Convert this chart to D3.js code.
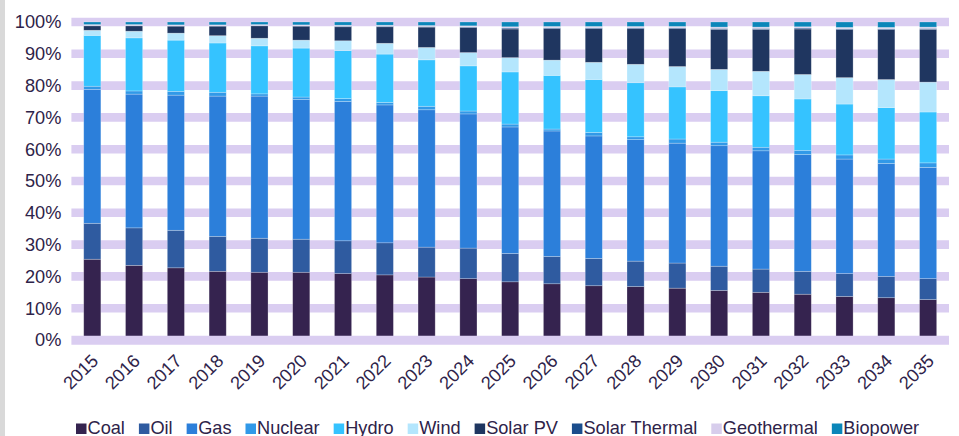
<!DOCTYPE html>
<html>
<head>
<meta charset="utf-8">
<script src="https://cdn.jsdelivr.net/npm/d3@7"></script>
<style>
body{margin:0;background:#fff;}
svg{display:block;font-family:"Liberation Sans",Arial,sans-serif;}
</style>
</head>
<body>
<svg id="chart" width="959" height="436"></svg>
<script>
// generation share by source, in % of the year's total
const years = ['2015','2016','2017','2018','2019','2020','2021','2022','2023','2024','2025',
    '2026','2027','2028','2029','2030','2031','2032','2033','2034','2035'];
const sources = ['Coal','Oil','Gas','Nuclear','Hydro','Wind','Solar PV','Solar Thermal','Geothermal','Biopower'];
const sourceColors = ['#35234f','#2f5ba0','#2c7fda','#3199e8','#35c3ff','#b4e6fd','#1f3660','#1b4d8c','#d7cdec','#0b86b9'];

const coal         = [25.4,23.5,22.7,21.6,21.3,21.3,20.9,20.5,19.8,19.3,18.3,17.7,17.1,16.8,16.3,15.6,15.0,14.4,13.7,13.3,12.7];
const oil          = [11.3,11.8,11.8,11.0,10.7,10.4,10.3,10.1, 9.4, 9.6, 8.9, 8.6, 8.6, 8.0, 7.9, 7.6, 7.3, 7.2, 7.2, 6.7, 6.6];
const gas          = [42.1,42.1,42.5,44.1,44.7,43.9,43.8,43.4,43.2,42.2,39.8,39.5,38.6,38.2,37.7,37.9,37.2,36.7,36.0,35.5,35.0];
const nuclear      = [ 1.0, 1.0, 1.2, 1.2, 0.7, 0.8, 0.9, 0.8, 1.1, 0.9, 0.9, 0.6, 1.1, 0.9, 1.3, 1.1, 1.1, 1.3, 1.3, 1.4, 1.4];
const hydro        = [16.0,16.7,16.1,15.5,15.1,15.4,15.1,15.2,14.6,14.2,16.4,16.9,16.7,17.0,16.4,16.2,16.2,16.2,16.0,16.2,16.0];
const wind         = [ 1.6, 2.1, 2.2, 2.3, 2.4, 2.5, 3.1, 3.4, 3.9, 4.2, 4.5, 4.8, 5.4, 5.8, 6.4, 6.7, 7.7, 7.7, 8.3, 8.8, 9.4];
const solarPV      = [ 1.4, 1.7, 2.2, 3.0, 3.9, 4.4, 4.4, 5.2, 6.4, 7.9, 9.0, 9.9,10.6,11.2,11.9,12.6,13.2,14.3,15.1,15.7,16.6];
const solarThermal = [ 0.1, 0.1, 0.1, 0.1, 0.1, 0.1, 0.2, 0.2, 0.2, 0.2, 0.3, 0.3, 0.3, 0.3, 0.3, 0.3, 0.3, 0.3, 0.3, 0.3, 0.3];
const geothermal   = [ 0.3, 0.3, 0.3, 0.3, 0.3, 0.3, 0.3, 0.3, 0.3, 0.3, 0.4, 0.4, 0.4, 0.4, 0.4, 0.4, 0.4, 0.4, 0.4, 0.4, 0.4];
const biopower     = [ 0.8, 0.8, 0.9, 0.9, 0.8, 0.9, 1.0, 1.0, 1.1, 1.2, 1.5, 1.4, 1.4, 1.4, 1.4, 1.6, 1.6, 1.5, 1.7, 1.7, 1.6];

const seriesValues = [coal, oil, gas, nuclear, hydro, wind, solarPV, solarThermal, geothermal, biopower];

const margin = {top: 22, bottom: 96, left: 71.4, right: 10};
const gridColor = '#dacdf1';
const textColor = '#2e2349';
const fontSize = '18.2px';

let svg = d3.select('#chart');
const width = +svg.attr('width');
const height = +svg.attr('height');

// the grey strip on the left edge
svg.append('rect')
    .attr('x', 0).attr('y', 0)
    .attr('width', 5).attr('height', height)
    .attr('fill', '#d9d9d9');

let rows = years.map(function(year, i){
    let row = {year: year};
    sources.forEach(function(s, k){ row[s] = seriesValues[k][i]; });
    return row;
});

let stacked = d3.stack()
    .keys(sources)
    .offset(d3.stackOffsetExpand)(rows);

let xScale = d3.scaleBand()
    .domain(years)
    .range([margin.left, width - margin.right])
    .paddingInner(0.59)
    .paddingOuter(0.295);
let yScale = d3.scaleLinear()
    .domain([0, 1])
    .range([height - margin.bottom, margin.top]);
let colorScale = d3.scaleOrdinal().domain(sources).range(sourceColors);

const ticks = yScale.ticks(10);

// thick lavender gridlines behind the bars
svg.append('g')
    .selectAll('line')
    .data(ticks.filter(t => t > 0))
    .enter()
    .append('line')
    .attr('x1', margin.left)
    .attr('x2', width - margin.right)
    .attr('y1', d => yScale(d))
    .attr('y2', d => yScale(d))
    .attr('stroke', gridColor)
    .attr('stroke-width', 8.6);

svg.append('g')
    .selectAll('g')
    .data(stacked)
    .enter()
    .append('g')
    .attr('fill', d => colorScale(d.key))
    .selectAll('rect')
    .data(d => d)
    .enter()
    .append('rect')
    .attr('x', d => xScale(d.data.year))
    .attr('width', xScale.bandwidth())
    .attr('y', d => yScale(d[1]))
    .attr('height', d => yScale(d[0]) - yScale(d[1]))
    .attr('stroke', 'rgba(255,255,255,0.35)')
    .attr('stroke-width', 0.7);

// the 0% line sits on top of the bars
svg.append('line')
    .attr('x1', margin.left)
    .attr('x2', width - margin.right)
    .attr('y1', yScale(0) + 0.3)
    .attr('y2', yScale(0) + 0.3)
    .attr('stroke', gridColor)
    .attr('stroke-width', 9);

let yAxis = svg.append('g')
    .attr('transform', 'translate(' + margin.left + ',0)')
    .call(d3.axisLeft(yScale).ticks(10, '.0%').tickSize(0).tickPadding(10));
yAxis.select('.domain').remove();
yAxis.selectAll('text')
    .attr('fill', textColor)
    .style('font-size', fontSize)
    .style('font-family', '"Liberation Sans",Arial,sans-serif');

let xAxis = svg.append('g')
    .attr('transform', 'translate(0,' + yScale(0) + ')')
    .call(d3.axisBottom(xScale).tickSize(0));
xAxis.select('.domain').remove();
xAxis.selectAll('text')
    .attr('y', 0)
    .attr('dy', null)
    .attr('transform', 'translate(7,22) rotate(-45)')
    .style('text-anchor', 'end')
    .attr('fill', textColor)
    .style('font-size', fontSize)
    .style('font-family', '"Liberation Sans",Arial,sans-serif');

// legend: laid out left to right from the measured text widths
let legend = svg.append('g').attr('transform', 'translate(76,434)');
let cursor = 0;
sources.forEach(function(s){
    let item = legend.append('g').attr('transform', 'translate(' + cursor + ',0)');
    item.append('rect')
        .attr('x', 0).attr('y', -10.5)
        .attr('width', 10.5).attr('height', 10.5)
        .attr('fill', colorScale(s));
    let label = item.append('text')
        .attr('x', 11.5)
        .attr('fill', textColor)
        .style('font-size', fontSize)
        .text(s);
    cursor += 11.5 + label.node().getComputedTextLength() + 14;
});
</script>
</body>
</html>
